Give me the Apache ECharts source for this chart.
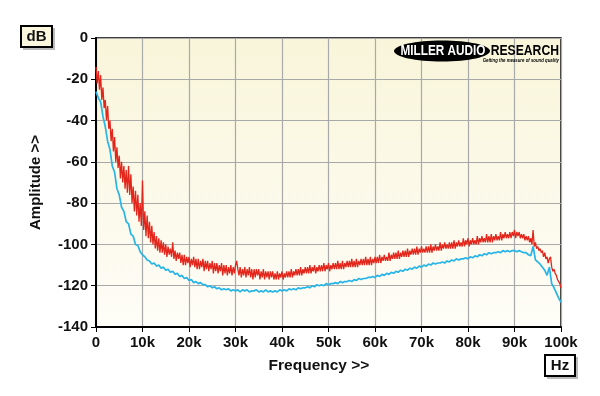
<!DOCTYPE html>
<html lang="en">
<head>
  <meta charset="UTF-8">
  <title>echarts</title>
  <style>
    html, body { margin: 0; padding: 0; background: #fff; }
    #chart { width: 600px; height: 396px; }
  </style>
</head>
<body>
  <div id="chart"></div>
  <script src="https://cdn.jsdelivr.net/npm/echarts@6/dist/echarts.min.js"></script>
  <script>
    // sweep steps, kHz
    var RED_STEP = 0.25;
    var BLUE_STEP = 0.5;
    var xTicks = ['0', '10k', '20k', '30k', '40k', '50k', '60k', '70k', '80k', '90k', '100k'];

    // red trace, 0..100 kHz every 0.25 kHz (dB), one row per kHz
    var redDb = [
      -14, -22, -16, -25,
      -18, -30, -24, -34,
      -30, -40, -33, -44,
      -40, -50, -44, -55,
      -48, -60, -53, -63,
      -57, -68, -60, -70,
      -62, -73, -64, -75,
      -62, -76, -66, -80,
      -72, -84, -74, -86,
      -76, -89, -80, -91,
      -69, -93, -84, -96,
      -86, -97, -89, -99,
      -91, -100, -94, -102,
      -96, -103, -97, -104,
      -98, -104, -99, -105,
      -100, -106, -101, -105,
      -102, -106, -99, -107,
      -103, -108, -104, -107,
      -104, -109, -105, -110,
      -105, -110, -106, -109,
      -106, -111, -107, -110,
      -106, -111, -107, -112,
      -107, -112, -108, -111,
      -107, -113, -108, -112,
      -108, -113, -109, -112,
      -108, -114, -109, -113,
      -109, -114, -110, -113,
      -109, -115, -110, -114,
      -110, -115, -111, -114,
      -110, -115, -111, -114,
      -110, -108, -112, -115,
      -111, -116, -112, -115,
      -111, -116, -112, -115,
      -111, -116, -112, -117,
      -112, -116, -112, -115,
      -112, -117, -113, -116,
      -112, -117, -113, -116,
      -113, -117, -113, -116,
      -113, -117, -114, -117,
      -113, -117, -114, -116,
      -113, -117, -114, -116,
      -113, -116, -113, -116,
      -112, -116, -113, -115,
      -112, -115, -112, -115,
      -111, -115, -112, -114,
      -111, -114, -111, -114,
      -110, -114, -111, -113,
      -110, -114, -111, -113,
      -110, -113, -110, -113,
      -109, -113, -110, -112,
      -109, -113, -110, -112,
      -109, -112, -109, -112,
      -108, -112, -109, -112,
      -108, -112, -109, -111,
      -108, -111, -108, -111,
      -107, -111, -108, -111,
      -107, -111, -108, -110,
      -107, -110, -107, -110,
      -106, -110, -107, -110,
      -106, -110, -107, -109,
      -106, -109, -106, -109,
      -105, -109, -106, -108,
      -105, -108, -106, -108,
      -104, -108, -105, -107,
      -104, -107, -104, -107,
      -103, -107, -104, -106,
      -103, -106, -103, -106,
      -102, -106, -103, -105,
      -102, -105, -102, -105,
      -101, -105, -102, -104,
      -101, -104, -102, -104,
      -101, -104, -101, -104,
      -100, -104, -101, -103,
      -100, -103, -101, -103,
      -99, -103, -100, -102,
      -99, -102, -100, -102,
      -99, -102, -99, -102,
      -98, -102, -99, -101,
      -98, -101, -99, -101,
      -97, -101, -98, -100,
      -97, -101, -98, -100,
      -97, -100, -98, -100,
      -96, -100, -97, -99,
      -96, -99, -97, -99,
      -95, -99, -96, -99,
      -95, -99, -96, -98,
      -95, -98, -96, -98,
      -94, -98, -95, -97,
      -94, -97, -95, -97,
      -94, -97, -94, -96,
      -93, -97, -94, -96,
      -94, -97, -95, -97,
      -95, -98, -96, -98,
      -96, -99, -97, -100,
      -93, -101, -99, -102,
      -101, -103, -102, -104,
      -103, -106, -104, -107,
      -106, -109, -107, -106,
      -111, -113, -112, -114,
      -115, -117, -117, -119,
      -121
    ];

    // blue trace, 0..100 kHz every 0.5 kHz (dB)
    var blueDb = [
      -26, -29, -31, -38, -43, -50, -54, -62, -65, -73,
      -76, -82, -84, -89, -90, -95, -96, -100, -100.5, -103.5,
      -105, -106, -107.5, -108, -109.5, -109, -110.5, -110, -111.5, -111,
      -112.5, -112, -113.5, -113, -114.5, -114, -115.5, -115, -116.5, -116,
      -117.5, -117, -118.5, -118, -119, -118.5, -119.5, -119.5, -120.5, -120,
      -121, -120.5, -121.5, -121, -122, -121.5, -122, -121.5, -122.5, -122,
      -122.5, -122, -123, -122, -122.5, -122, -123, -122.5, -122.5, -122,
      -123, -122.5, -123, -122, -123, -122.5, -123, -122.5, -123, -122,
      -122.5, -122, -122.5, -121.5, -122, -121.5, -122, -121, -121.5, -121,
      -121, -120.5, -121, -120, -120.5, -119.5, -120, -119.5, -120, -119,
      -119.5, -119, -119, -118.5, -119, -118, -118.5, -118, -118, -117.5,
      -118, -117, -117.5, -116.5, -117, -116.5, -116.5, -116, -116, -115.5,
      -116, -115, -115.5, -114.5, -115, -114, -114.5, -113.5, -114, -113,
      -113.5, -112.5, -113, -112, -112.5, -111.5, -112, -111, -111.5, -110.5,
      -111, -110, -110.5, -109.5, -110, -109, -109.5, -109, -109, -108.5,
      -109, -108, -108.5, -107.5, -108, -107, -107.5, -107, -107, -106.5,
      -107, -106, -106.5, -105.5, -106, -105, -105.5, -104.5, -105, -104,
      -104.5, -104, -104, -103.5, -104, -103, -103.5, -103, -103.5, -103,
      -103, -103.5, -103, -103.5, -104, -104, -105, -105.5, -101, -107.5,
      -108.5, -109.5, -111, -112.5, -115, -111, -119, -121, -123.5, -126,
      -128
    ];

    function pairs(arr, step) {
      return arr.map(function (v, i) { return [i * step, v]; });
    }

    var font = 'Liberation Sans, Arial, sans-serif';

    var option = {
      animation: false,
      grid: {
        left: 96, right: 39, top: 38, bottom: 69,
        show: true,
        borderColor: '#000',
        borderWidth: 1.5,
        backgroundColor: {
          type: 'linear', x: 0, y: 0, x2: 0, y2: 1,
          colorStops: [{ offset: 0, color: '#f9f5da' }, { offset: 1, color: '#fefdf7' }]
        }
      },
      xAxis: {
        type: 'value', min: 0, max: 100, interval: 10,
        axisLine: { onZero: false, lineStyle: { color: '#000', width: 2 } },
        axisTick: { show: true, length: 5, lineStyle: { color: '#000', width: 1 } },
        axisLabel: {
          margin: 8, fontFamily: font, fontWeight: 'bold', fontSize: 15, color: '#111',
          formatter: function (v) { return xTicks[Math.round(v / 10)]; }
        },
        splitLine: { show: true, lineStyle: { color: '#a9a9a9', width: 1.2 } }
      },
      yAxis: {
        type: 'value', min: -140, max: 0, interval: 20,
        name: 'Amplitude >>', nameLocation: 'middle', nameGap: 53, nameRotate: 90,
        nameTextStyle: { fontFamily: font, fontWeight: 'bold', fontSize: 15, color: '#111' },
        axisLine: { show: true, onZero: false, lineStyle: { color: '#000', width: 2 } },
        axisTick: { show: true, length: 5, lineStyle: { color: '#000', width: 1 } },
        axisLabel: { margin: 8, fontFamily: font, fontWeight: 'bold', fontSize: 15, color: '#111' },
        splitLine: { show: true, lineStyle: { color: '#a9a9a9', width: 1.2 } }
      },
      series: [{
          type: 'line', showSymbol: false, symbol: 'none',
          lineStyle: { color: '#27b4e6', width: 1.7 },
          data: pairs(blueDb, BLUE_STEP)
        },
        {
          type: 'line', showSymbol: false, symbol: 'none',
          lineStyle: { color: '#e3261b', width: 1.3 },
          data: pairs(redDb, RED_STEP)
        }
      ],
      graphic: [
        // x axis title
        { type: 'text', x: 319, y: 366, style: { text: 'Frequency >>', fontFamily: font, fontWeight: 'bold', fontSize: 15.5, fill: '#111', align: 'center', verticalAlign: 'middle' }, z: 102 },
        // dB unit box
        { type: 'rect', shape: { x: 23, y: 28, width: 32, height: 22 }, style: { fill: '#bbb' }, z: 100 },
        { type: 'rect', shape: { x: 21, y: 26, width: 31, height: 21 }, style: { fill: '#fbf7df', stroke: '#000', lineWidth: 2 }, z: 101 },
        { type: 'text', x: 36.5, y: 36.5, style: { text: 'dB', fontFamily: font, fontWeight: 'bold', fontSize: 15, fill: '#111', align: 'center', verticalAlign: 'middle' }, z: 102 },
        // Hz unit box
        { type: 'rect', shape: { x: 547, y: 357, width: 31, height: 22 }, style: { fill: '#bbb' }, z: 100 },
        { type: 'rect', shape: { x: 545, y: 355, width: 30, height: 21 }, style: { fill: '#fff', stroke: '#000', lineWidth: 2 }, z: 101 },
        { type: 'text', x: 560, y: 365.5, style: { text: 'Hz', fontFamily: font, fontWeight: 'bold', fontSize: 15, fill: '#111', align: 'center', verticalAlign: 'middle' }, z: 102 },
        // logo
        { type: 'ellipse', shape: { cx: 442, cy: 51, rx: 48, ry: 10.5 }, style: { fill: '#000' }, z: 100 },
        { type: 'text', x: 443, y: 51.5, scaleX: 0.84, style: { text: 'MILLER AUDIO', fontFamily: font, fontWeight: 900, fontSize: 14, fill: '#fff', align: 'center', verticalAlign: 'middle' }, z: 101 },
        { type: 'text', x: 559, y: 51.5, scaleX: 0.87, style: { text: 'RESEARCH', fontFamily: font, fontWeight: 900, fontSize: 14, fill: '#000', align: 'right', verticalAlign: 'middle' }, z: 101 },
        { type: 'text', x: 559, y: 60.5, scaleX: 0.72, style: { text: 'Getting the measure of sound quality', fontFamily: font, fontWeight: 'bold', fontStyle: 'italic', fontSize: 6, fill: '#000', align: 'right', verticalAlign: 'middle' }, z: 101 }
      ]
    };

    echarts.init(document.getElementById('chart'), null, { renderer: 'canvas' }).setOption(option);
  </script>
</body>
</html>
